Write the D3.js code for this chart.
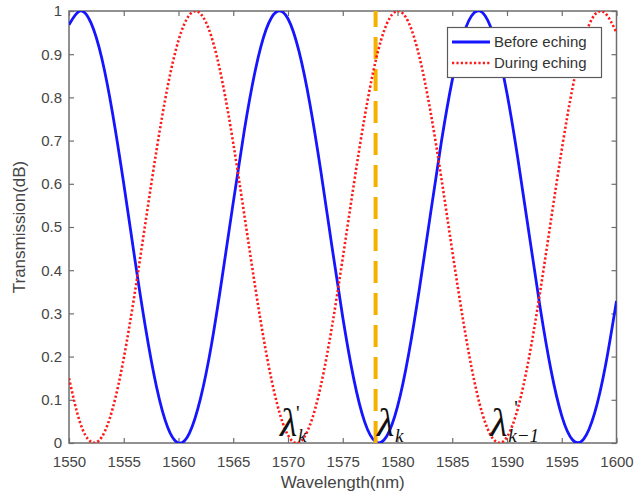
<!DOCTYPE html>
<html><head><meta charset="utf-8">
<script src="https://cdn.jsdelivr.net/npm/d3@7"></script>
<style>body{margin:0;background:#fff}svg{display:block}</style>
</head><body><svg id="c" width="636" height="501"></svg>
<script>
const wavelengths = [1550,1551,1552,1553,1554,1555,1556,1557,1558,1559,1560,1561,1562,1563,1564,1565,1566,1567,1568,1569,1570,1571,1572,1573,1574,1575,1576,1577,1578,1579,1580,1581,1582,1583,1584,1585,1586,1587,1588,1589,1590,1591,1592,1593,1594,1595,1596,1597,1598,1599,1600];
const beforeEtching = [0.968,1.000,0.973,0.890,0.760,0.600,0.428,0.265,0.129,0.037,0.000,0.023,0.102,0.226,0.386,0.557,0.722,0.861,0.957,0.999,0.982,0.907,0.785,0.629,0.457,0.291,0.149,0.049,0.003,0.015,0.084,0.203,0.357,0.528,0.696,0.840,0.944,0.996,0.989,0.924,0.809,0.657,0.487,0.318,0.171,0.063,0.007,0.009,0.069,0.180,0.329];
const duringEtching = [0.150,0.048,0.003,0.014,0.081,0.196,0.346,0.513,0.679,0.824,0.932,0.991,0.994,0.941,0.837,0.694,0.530,0.362,0.210,0.091,0.018,0.001,0.041,0.133,0.267,0.428,0.597,0.755,0.884,0.969,1.000,0.974,0.894,0.769,0.614,0.445,0.283,0.145,0.048,0.003,0.014,0.081,0.196,0.346,0.513,0.679,0.824,0.932,0.991,0.994,0.950];
const seriesNames = ["Before eching","During eching"];
const xTicks = [1550,1555,1560,1565,1570,1575,1580,1585,1590,1595,1600];
const yTicks = [0,0.1,0.2,0.3,0.4,0.5,0.6,0.7,0.8,0.9,1];
const yTickLabels = ["0","0.1","0.2","0.3","0.4","0.5","0.6","0.7","0.8","0.9","1"];
const markerWavelength = 1578;
const annotationWavelengths = [1571.1, 1579.95, 1590.3];
const annotationSubs = ["k", "k", "k−1"];
const annotationPrimes = [true, false, true];

const svg = d3.select("#c");
const L=69, R=616.5, T=11, B=443;
const x = d3.scaleLinear().domain([1550,1600]).range([L,R]);
const y = d3.scaleLinear().domain([0,1]).range([B,T]);
const axisColor = "#6e6e6e", textColor = "#454545";
const font = "'Liberation Sans', Arial, sans-serif";

svg.append("defs").append("clipPath").attr("id","clip")
  .append("rect").attr("x",L).attr("y",T).attr("width",R-L).attr("height",B-T);

function styleAxis(g, labels){
  g.select(".domain").remove();
  g.selectAll(".tick line").attr("stroke",axisColor).attr("stroke-width",1.2);
  g.selectAll(".tick text").attr("fill",textColor).style("font-family",font).style("font-size","15px");
  if(!labels) g.selectAll(".tick text").remove();
}
svg.append("g").attr("transform",`translate(0,${B})`)
  .call(d3.axisBottom(x).tickValues(xTicks).tickFormat(d3.format("d")).tickSizeInner(-5).tickSizeOuter(0).tickPadding(13))
  .call(g=>styleAxis(g,true));
svg.append("g").attr("transform",`translate(0,${T})`)
  .call(d3.axisTop(x).tickValues(xTicks).tickSizeInner(-5).tickSizeOuter(0))
  .call(g=>styleAxis(g,false));
svg.append("g").attr("transform",`translate(${L},0)`)
  .call(d3.axisLeft(y).tickValues(yTicks).tickFormat((d,i)=>yTickLabels[i]).tickSizeInner(-5).tickSizeOuter(0).tickPadding(7))
  .call(g=>styleAxis(g,true));
svg.append("g").attr("transform",`translate(${R},0)`)
  .call(d3.axisRight(y).tickValues(yTicks).tickSizeInner(-5).tickSizeOuter(0))
  .call(g=>styleAxis(g,false));

svg.append("rect").attr("x",L).attr("y",T).attr("width",R-L).attr("height",B-T)
  .attr("fill","none").attr("stroke",axisColor).attr("stroke-width",1.5);

const line = d3.line().curve(d3.curveNatural).x((d,i)=>x(wavelengths[i])).y(d=>y(d));
const plot = svg.append("g").attr("clip-path","url(#clip)");
plot.append("path").datum(beforeEtching).attr("d",line)
  .attr("fill","none").attr("stroke","#1515ff").attr("stroke-width",2.8);
plot.append("line").attr("x1",x(markerWavelength)).attr("x2",x(markerWavelength))
  .attr("y1",y(0)).attr("y2",y(1))
  .attr("stroke","#f5b000").attr("stroke-width",4).attr("stroke-dasharray","22,10");
plot.append("path").datum(duringEtching).attr("d",line)
  .attr("fill","none").attr("stroke","#ff1a1a").attr("stroke-width",2.6).attr("stroke-dasharray","2.2,2.2");

// annotations (lambda labels), each one text element
const ann = svg.append("g").style("font-family","'Liberation Serif','Times New Roman',serif").attr("fill","#111");
annotationWavelengths.forEach((w,i)=>{
  const px = x(w);
  const t = ann.append("text").attr("x",px-20).attr("y",B-7);
  t.append("tspan").style("font-size","40px").style("font-style","italic").text("λ");
  if(annotationPrimes[i]){
    const long = annotationSubs[i].length>1;
    t.append("tspan").attr("x", long ? px+4 : px-4).attr("y", long ? B-28 : B-23)
      .style("font-size","20px").text("'");
  }
  t.append("tspan").attr("x",px-2).attr("y",B-1)
    .style("font-size","19px").style("font-style","italic").text(annotationSubs[i]);
});

// axis labels
svg.append("text").attr("x",(L+R)/2).attr("y",488).attr("text-anchor","middle")
  .attr("fill",textColor).style("font-family",font).style("font-size","17px").text("Wavelength(nm)");
svg.append("text").attr("transform",`translate(25,${(T+B)/2}) rotate(-90)`).attr("text-anchor","middle")
  .attr("fill",textColor).style("font-family",font).style("font-size","17px").text("Transmission(dB)");

// legend
const lg = svg.append("g");
lg.append("rect").attr("x",447.5).attr("y",27.5).attr("width",154).attr("height",50)
  .attr("fill","#fff").attr("stroke","#5a5a5a").attr("stroke-width",1.2);
const styles = [{c:"#1515ff",w:2.8,da:null},{c:"#ff1a1a",w:2.6,da:"2.2,2.2"}];
seriesNames.forEach((n,i)=>{
  const yy = 42 + i*21;
  lg.append("line").attr("x1",452).attr("x2",490).attr("y1",yy).attr("y2",yy)
    .attr("stroke",styles[i].c).attr("stroke-width",styles[i].w).attr("stroke-dasharray",styles[i].da);
  lg.append("text").attr("x",494).attr("y",yy+5).attr("fill","#333")
    .style("font-family",font).style("font-size","15px").text(n);
});
</script></body></html>
